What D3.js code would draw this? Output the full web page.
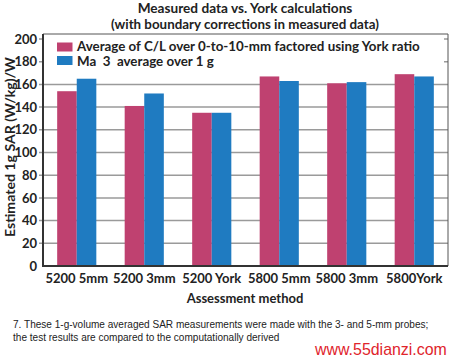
<!DOCTYPE html>
<html><head><meta charset="utf-8">
<script src="https://cdn.jsdelivr.net/npm/d3@7"></script>
<style>body{margin:0;background:#fff}svg{display:block}</style>
</head><body>
<svg id="c" width="450" height="360"></svg>
<script>
const categories = ["5200 5mm","5200 3mm","5200 York","5800 5mm","5800 3mm","5800York"];
const seriesNames = ["Average of C/L over 0-to-10-mm factored using York ratio","Ma  3  average over 1 g"];
const yorkFactored = [154,141,135,167,161,169];
const ma3Average = [165,152,135,163,162,167];
const yTicks = [0,20,40,60,80,100,120,140,160,180,200];
const titleLines = ["Measured data vs. York calculations","(with boundary corrections in measured data)"];
const captionLines = ["7. These 1-g-volume averaged SAR measurements were made with the 3- and 5-mm probes;","the test results are compared to the computationally derived"];

const colors = ["#bf4170","#1f7bc1"];
const svg = d3.select("#c");
const L=43,R=448,T=34,B=266;
const font = "Lato, 'Open Sans', sans-serif";

function fit(sel, w){
  const n=sel.node(); const len=n.getComputedTextLength();
  const fs=parseFloat(sel.attr("font-size")); sel.attr("font-size", fs*w/len);
  return fs*w/len;
}

const x = d3.scaleBand().domain(categories).range([L,R]).paddingInner(0.42).paddingOuter(0.21);
const xs = d3.scaleBand().domain([0,1]).range([0,x.bandwidth()]);
const y = d3.scaleLinear().domain([0,200]).range([B,39]);

titleLines.forEach((t,i)=>{
  const s=svg.append("text").attr("x",245).attr("y",13+i*16).attr("text-anchor","middle")
    .attr("font-family",font).attr("font-weight",700).attr("font-size",14).attr("fill","#222").text(t);
  fit(s,[215,268][i]);
});

svg.append("g").selectAll("line").data(yTicks.filter(d=>d>0)).join("line")
  .attr("x1",39).attr("x2",R).attr("y1",d=>y(d)).attr("y2",d=>y(d))
  .attr("stroke","#9a9a9a").attr("stroke-width",1.5);

const yAxis = svg.append("g").attr("transform",`translate(${L},0)`)
  .call(d3.axisLeft(y).tickValues(yTicks).tickSize(0).tickPadding(6));
yAxis.select(".domain").remove();
yAxis.selectAll("text").attr("font-family",font).attr("font-weight",700).attr("font-size",13).attr("fill","#222");

const data = categories.map((c,i)=>({c, v:[yorkFactored[i],ma3Average[i]]}));
const g = svg.append("g").selectAll("g").data(data).join("g").attr("transform",d=>`translate(${x(d.c)},0)`);
g.selectAll("rect").data(d=>d.v.map((v,k)=>({v,k}))).join("rect")
  .attr("x",d=>xs(d.k)).attr("width",xs.bandwidth()).attr("y",d=>y(d.v)).attr("height",d=>y(0)-y(d.v))
  .attr("fill",d=>colors[d.k]);

svg.append("rect").attr("x",L+1).attr("y",T+1).attr("width",R-L-5).attr("height",37).attr("fill","#fff");
let legFs = 14;
seriesNames.forEach((n,i)=>{
  svg.append("rect").attr("x",57).attr("y",42.5+i*13.5).attr("width",15.5).attr("height",9).attr("fill",colors[i]);
  const s=svg.append("text").attr("x",77).attr("y",50.5+i*15.5).attr("font-family",font).attr("font-weight",700)
    .attr("font-size",legFs).attr("fill","#222").attr("xml:space","preserve").style("white-space","pre").text(n);
  if(i===0) legFs = fit(s,343);
});

svg.append("path").attr("d",`M${L},${T}H${R}V${B}`).attr("fill","none").attr("stroke","#555").attr("stroke-width",1);
svg.append("path").attr("d",`M${L},${T}V${B}H${R}`).attr("fill","none").attr("stroke","#333").attr("stroke-width",2);

const xAxis = svg.append("g").attr("transform",`translate(0,${B})`).call(d3.axisBottom(x).tickSize(0).tickPadding(8));
xAxis.select(".domain").remove();
xAxis.selectAll("text").attr("font-family",font).attr("font-weight",700).attr("font-size",13).attr("fill","#222");

svg.append("text").attr("x",245).attr("y",303).attr("text-anchor","middle").attr("font-family",font)
  .attr("font-weight",700).attr("font-size",13).attr("fill","#222").text("Assessment method");

const yl = svg.append("text").attr("transform","translate(15,147) rotate(-90)").attr("text-anchor","middle")
  .attr("font-family",font).attr("font-weight",700).attr("font-size",13).attr("fill","#222")
  .text("Estimated 1g SAR (W/kg)/W");
fit(yl,180);

let capFs = 11;
captionLines.forEach((t,i)=>{
  const s=svg.append("text").attr("x",13).attr("y",328+i*13).attr("font-family","'Liberation Sans', Arial, sans-serif")
    .attr("font-size",capFs).attr("fill","#222").text(t);
  if(i===0) capFs = fit(s,416);
});
const wm=svg.append("text").attr("x",315).attr("y",355).attr("font-family","'Liberation Sans', Arial, sans-serif")
  .attr("font-size",17).attr("fill","#e0242c").text("www.55dianzi.com");
fit(wm,132);
</script>
</body></html>
